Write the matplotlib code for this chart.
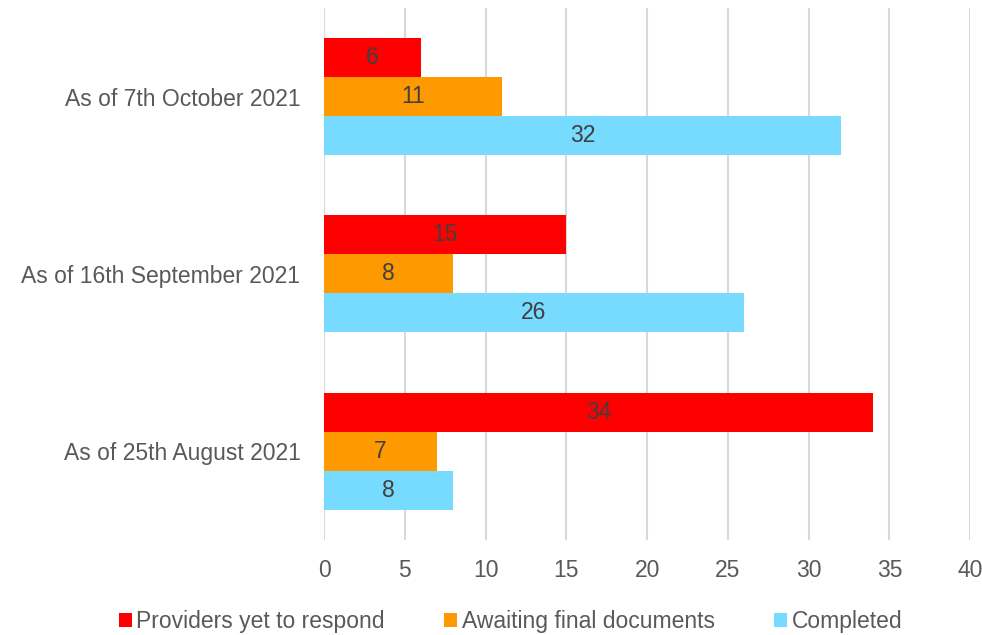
import matplotlib.pyplot as plt
import numpy as np

plt.rcParams["font.family"] = ["Liberation Sans", "DejaVu Sans"]

categories = [
    "As of 25th August 2021",
    "As of 16th September 2021",
    "As of 7th October 2021",
]
series_names = [
    "Providers yet to respond",
    "Awaiting final documents",
    "Completed",
]
providers_yet = [34, 15, 6]
awaiting_docs = [7, 8, 11]
completed = [8, 26, 32]
x_ticks = [0, 5, 10, 15, 20, 25, 30, 35, 40]

colors = ["#FF0000", "#FF9900", "#77DAFF"]
text_color = "#595959"
font_size = 16.5

figure = plt.figure(figsize=(9.82, 6.35), dpi=100)
axis = figure.add_axes([0.33, 0.1496, 0.658, 0.838])

y = np.arange(len(categories))
bar_h = 0.22
offsets = [bar_h, 0, -bar_h]
all_series = [providers_yet, awaiting_docs, completed]

for values, offset, color, name in zip(all_series, offsets, colors, series_names):
    bars = axis.barh(y + offset, values, height=bar_h, color=color, label=name, zorder=3)
    for bar, v in zip(bars, values):
        axis.text(
            v / 2,
            bar.get_y() + bar.get_height() / 2,
            str(v),
            ha="center",
            va="center",
            fontsize=font_size,
            color="#404040",
            zorder=4,
        )

axis.set_xlim(0, 40)
axis.set_ylim(-0.5, len(categories) - 0.5)
axis.set_xticks(x_ticks)
axis.set_yticks(y)
axis.set_yticklabels(categories)
axis.tick_params(axis="both", length=0, labelsize=font_size, labelcolor=text_color)
axis.tick_params(axis="x", pad=14)
axis.tick_params(axis="y", pad=17)
axis.grid(axis="x", color="#D9D9D9", linewidth=1.5, zorder=0)
for spine in axis.spines.values():
    spine.set_visible(False)

figure.legend(
    loc="lower center",
    bbox_to_anchor=(0.52, -0.03),
    ncol=3,
    frameon=False,
    fontsize=font_size,
    labelcolor=text_color,
    handlelength=0.55,
    handleheight=0.55,
    handletextpad=0.2,
    columnspacing=2.6,
)

figure.savefig("out.png", dpi=100)
